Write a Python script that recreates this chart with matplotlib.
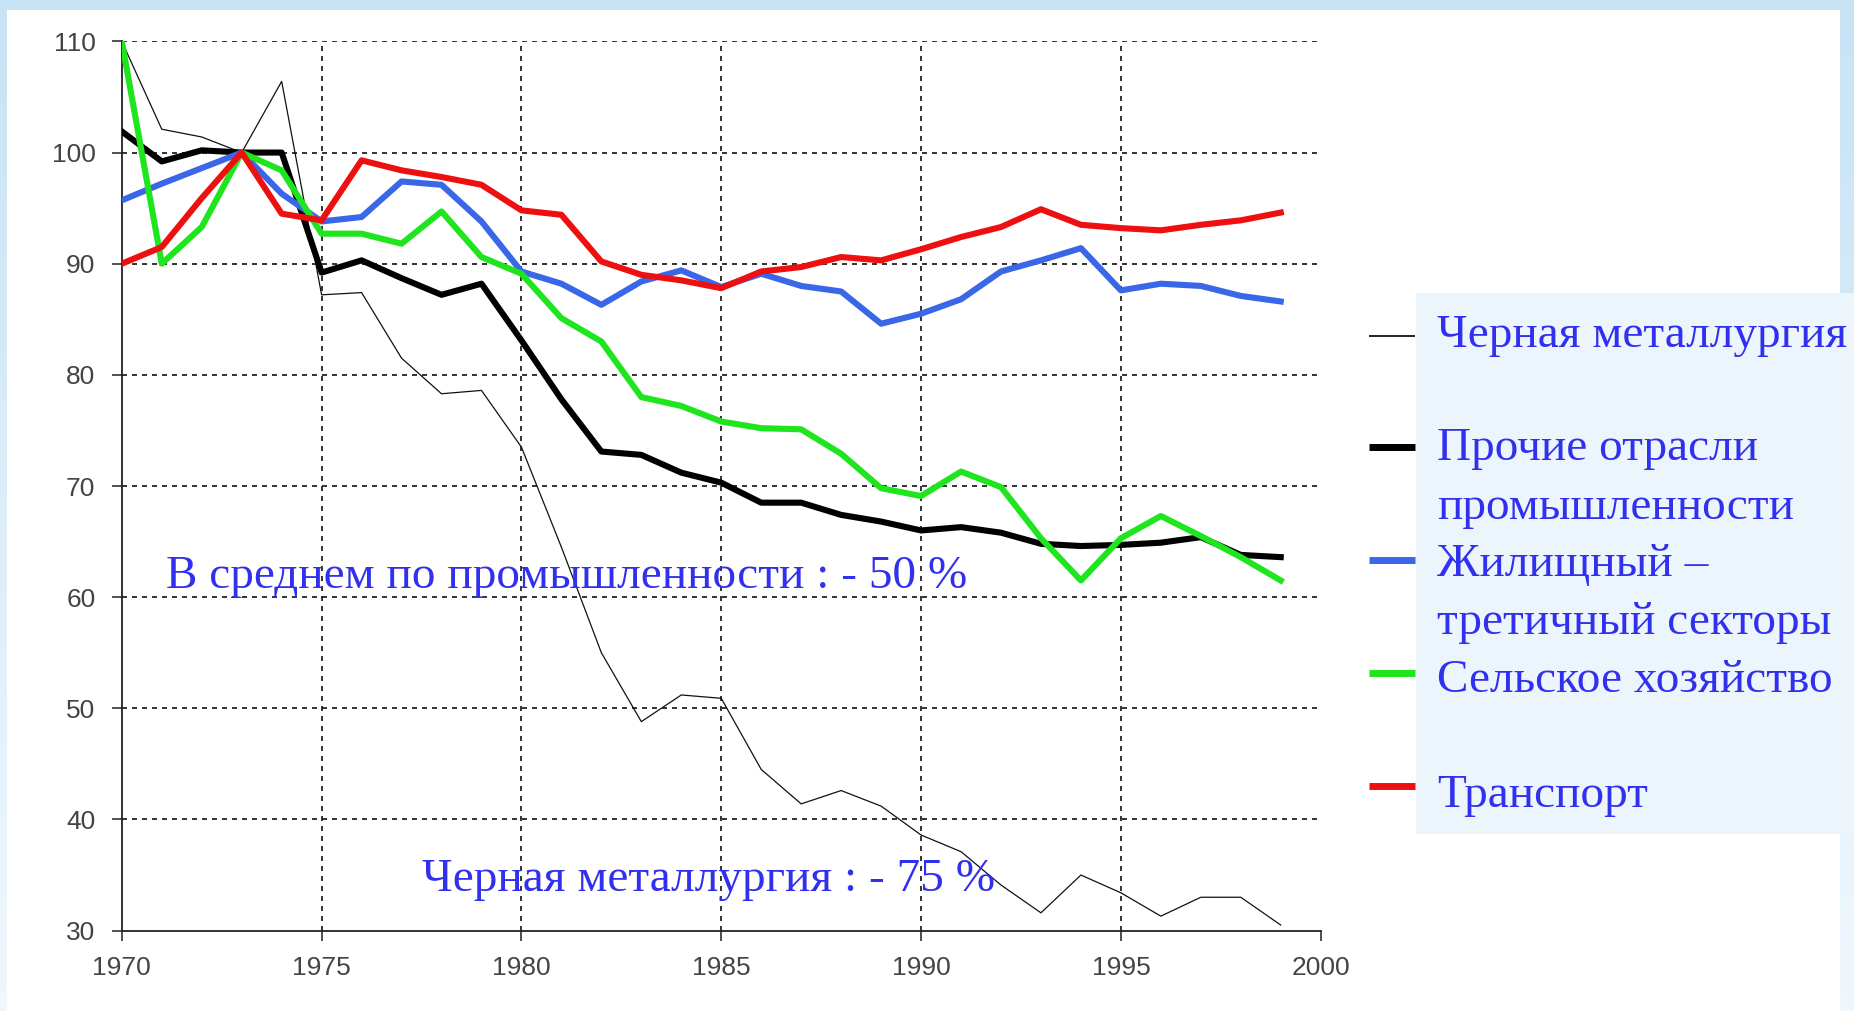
import numpy as np
import matplotlib
matplotlib.use("Agg")
import matplotlib.pyplot as plt
from matplotlib.patches import Rectangle
from matplotlib.lines import Line2D

# Data (index, 1973 = 100)
years = list(range(1970, 2000))
metallurgy = [110, 102.1, 101.4, 100, 106.4, 87.2, 87.4, 81.5, 78.3, 78.6,
              73.5, 64.5, 55.0, 48.8, 51.2, 50.9, 44.5, 41.4, 42.6, 41.2,
              38.6, 37.1, 34.1, 31.6, 35.0, 33.4, 31.3, 33.0, 33.0, 30.5]
other_industry = [101.9, 99.2, 100.2, 100, 100, 89.2, 90.3, 88.7, 87.2, 88.2,
                  83.1, 77.8, 73.1, 72.8, 71.2, 70.3, 68.5, 68.5, 67.4, 66.8,
                  66.0, 66.3, 65.8, 64.8, 64.6, 64.7, 64.9, 65.4, 63.8, 63.6]
housing = [95.7, 97.2, 98.6, 100, 96.3, 93.8, 94.2, 97.4, 97.1, 93.8,
           89.3, 88.2, 86.3, 88.4, 89.4, 87.9, 89.1, 88.0, 87.5, 84.6,
           85.5, 86.8, 89.3, 90.3, 91.4, 87.6, 88.2, 88.0, 87.1, 86.6]
agriculture = [110, 90, 93.3, 100, 98.4, 92.7, 92.7, 91.8, 94.7, 90.6,
               89.1, 85.1, 83.0, 78.0, 77.2, 75.8, 75.2, 75.1, 72.9, 69.8,
               69.1, 71.3, 69.9, 65.3, 61.5, 65.3, 67.3, 65.5, 63.6, 61.5]
transport = [90, 91.5, 95.9, 100, 94.5, 93.9, 99.3, 98.4, 97.8, 97.1,
             94.8, 94.4, 90.2, 89.0, 88.5, 87.8, 89.3, 89.7, 90.6, 90.3,
             91.3, 92.4, 93.3, 94.9, 93.5, 93.2, 93.0, 93.5, 93.9, 94.6]

legend_labels = [["Черная металлургия"], ["Прочие отрасли", "промышленности"],
                 ["Жилищный –", "третичный секторы"], ["Сельское хозяйство"], ["Транспорт"]]
note_avg = "В среднем по промышленности : - 50 %"
note_metal = "Черная металлургия : - 75 %"

W, H = 1854, 1011
fig = plt.figure(figsize=(W / 100, H / 100), dpi=100)

# background: light blue frame with gradient, white panel
bg = fig.add_axes([0, 0, 1, 1], zorder=-10)
grad = np.linspace(0, 1, 256).reshape(-1, 1)
top_c = np.array([0.78, 0.89, 0.96])
bot_c = np.array([0.94, 0.97, 0.995])
img = top_c + (bot_c - top_c) * grad[:, :, None]
bg.imshow(img, aspect="auto", extent=[0, 1, 0, 1], origin="upper")
bg.add_patch(Rectangle((7 / W, 0), (1840 - 7) / W, 1 - 10 / H, color="white", lw=0))
bg.add_patch(Rectangle((1416 / W, 1 - 834 / H), (W - 1416) / W, (834 - 293) / H,
                       color="#edf5fc", lw=0))
bg.set_xlim(0, 1)
bg.set_ylim(0, 1)
bg.axis("off")

ax = fig.add_axes([121.8 / W, 1 - 930.6 / H, (1320.7 - 121.8) / W, (930.6 - 41.4) / H])
ax.set_facecolor("none")

ax.plot(years, metallurgy, color="#111", lw=0.9, zorder=3)
ax.plot(years, other_industry, color="black", lw=4.4, zorder=4)
ax.plot(years, housing, color="#3a66e8", lw=4.4, zorder=5)
ax.plot(years, agriculture, color="#1fe51f", lw=4.4, zorder=6)
ax.plot(years, transport, color="#ee1010", lw=4.4, zorder=7)

ax.set_xlim(1970, 2000)
ax.set_ylim(30, 110)
ax.set_xticks(range(1970, 2001, 5))
ax.set_yticks(range(30, 111, 10))
for s in ["top", "right"]:
    ax.spines[s].set_visible(False)
for s in ["left", "bottom"]:
    ax.spines[s].set_color("#222")
    ax.spines[s].set_linewidth(1.3)
ax.tick_params(direction="out", length=7, width=1.2, color="#333",
               labelsize=19, labelcolor="#444")
ax.tick_params(axis="y", pad=12)
ax.tick_params(axis="x", pad=11)
for lab in ax.get_xticklabels() + ax.get_yticklabels():
    lab.set_family("Liberation Sans")

grid_kw = dict(color="#111", lw=1.2, linestyle=(0, (3, 3)), zorder=1)
for y in range(40, 111, 10):
    ax.plot([1970, 2000], [y, y], **grid_kw)
for x in range(1975, 2000, 5):
    ax.plot([x, x], [30, 110], **grid_kw)

blue_txt = "#3030ee"
ax.text(1971.1, 61.8, note_avg, color=blue_txt, family="Liberation Serif",
        fontsize=34, va="center", ha="left", zorder=8)
ax.text(1977.5, 34.6, note_metal, color=blue_txt, family="Liberation Serif",
        fontsize=34, va="center", ha="left", zorder=8)

# legend drawn by hand
line_y = [336, 447, 560, 673, 786]
widths = [1.2, 5, 5, 5, 5]
colors = ["black", "black", "#3a66e8", "#1fe51f", "#ee1010"]
text_y = [[336], [449, 508], [565, 623], [681], [796]]
for ly, lw, c, tys, labs in zip(line_y, widths, colors, text_y, legend_labels):
    fig.add_artist(Line2D([1369 / W, 1415 / W], [1 - ly / H, 1 - ly / H],
                          color=c, lw=lw, solid_capstyle="butt"))
    for ty, lab in zip(tys, labs):
        fig.text(1437 / W, 1 - ty / H, lab, color=blue_txt, family="Liberation Serif",
                 fontsize=34, va="center", ha="left")

fig.savefig("out.png", dpi=100)
